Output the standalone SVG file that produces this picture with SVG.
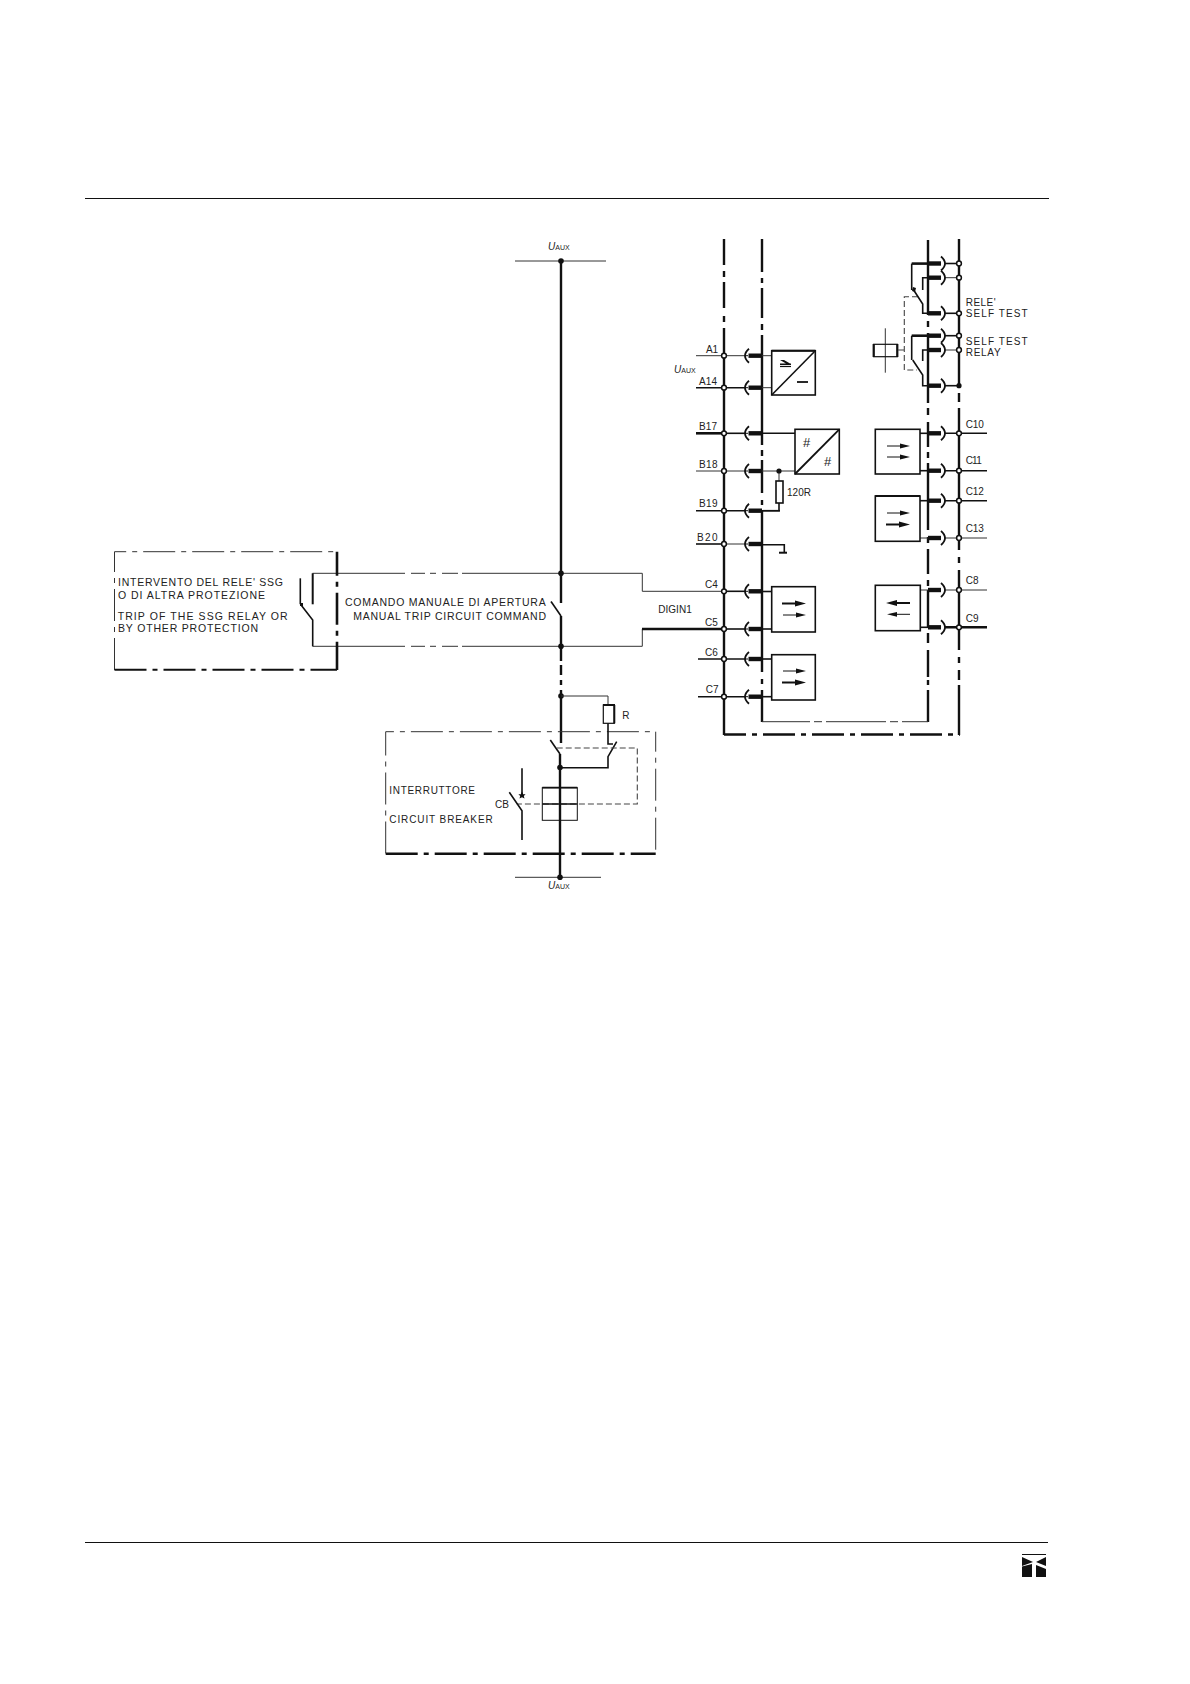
<svg xmlns="http://www.w3.org/2000/svg" xmlns:xlink="http://www.w3.org/1999/xlink" width="1190" height="1684" viewBox="0 0 1190 1684">
<style>
text{font-family:"Liberation Sans",Arial,sans-serif;fill:#222;font-size:10.5px}
.t{font-size:10px}
.s{font-size:7px}
.u{font-size:10px;font-style:italic}
line,path,rect,polyline{stroke:#111;fill:none;stroke-linecap:butt}
.w1{stroke-width:1;stroke:#333}
.w2{stroke-width:1.6}
.w3{stroke-width:2.6}
.b{stroke-width:2.4}
.dd{stroke-dasharray:32 6 5 6}
.dl{stroke-dasharray:60 4 8 4}
.dash{stroke-dasharray:6 3;stroke:#444;stroke-width:1.1}
.box{fill:#fff;stroke-width:1.6}
.arr{fill:#111;stroke:none}
.bar{stroke-width:4.4}
.term{fill:#fff;stroke:#111;stroke-width:1.5}
.dot{fill:#111;stroke:none}
</style>
<defs>
<g id="sl"><path d="M6 -7Q-2 0 6 7" stroke-width="1.8"/><path d="M3 0H5" stroke-width="1"/><line x1="5.5" y1="0" x2="19" y2="0" class="bar"/></g>
<g id="sr"><line x1="0" y1="0" x2="13" y2="0" class="bar"/><path d="M13 -7Q21 0 13 7" stroke-width="1.8"/></g>
<g id="arT"><line x1="0" y1="0" x2="15" y2="0" stroke-width="2"/><path class="arr" d="M13 -3L24 0L13 3Z"/></g>
<g id="art"><line x1="0" y1="0" x2="15" y2="0" stroke-width="1"/><path class="arr" d="M13 -2.4L23 0L13 2.4Z"/></g>
</defs>

<g id="page-rules">
<line x1="85" y1="198.5" x2="1049" y2="198.5" stroke-width="1.2"/>
<line x1="85" y1="1542.5" x2="1048" y2="1542.5" stroke-width="1.2"/>
</g>
<g id="logo">
<line x1="1022" y1="1554.5" x2="1046" y2="1554.5" stroke-width="1"/>
<path class="arr" d="M1022 1557L1033 1562L1022 1566Z"/>
<path class="arr" d="M1046 1557L1036 1562L1046 1566Z"/>
<path class="arr" d="M1022 1566.5L1032 1564L1032 1577H1022Z"/>
<path class="arr" d="M1036 1565L1046 1569V1577H1036Z"/>
</g>

<g id="connectors">
<!-- buses -->
<path class="b" d="M724 239V265M724 271V277M724 282V308M724 316V322M724 328V735"/>
<path class="b" d="M762 239V272M762 278V283M762 288V318M762 324V330M762 335V445M762 450V456M762 460V493M762 500V505M762 510V672M762 679V684M762 690V722"/>
<path class="b" d="M928 240V315M928 321V327M928 333V403M928 408V415M928 422V447M928 452V458M928 463V530M928 537V543M928 549V574M928 580V586M928 590V627M928 633V643M928 650V677M928 680V685M928 690V722"/>
<path class="b" d="M959 239V387M959 393V402M959 408V550M959 557V563M959 570V650M959 657V663M959 670V680M959 685V735"/>
<path class="b dd" stroke-dashoffset="10" d="M724 734.5H960"/>
<path class="w1 dl" stroke-dashoffset="12" d="M762 721.7H928"/>
<!-- main feed -->
<path class="b" d="M561 261V603M561 616V661M561 665V675M561 680V685M561 690V743"/>
<path class="b" d="M560 754V877"/>
<line class="w2" x1="551" y1="601.5" x2="561" y2="616"/>
<line class="w1" x1="515" y1="261" x2="606" y2="261"/>
<line class="w1" x1="515" y1="877.3" x2="601" y2="877.3"/>
<!-- command loop -->
<path class="w1" d="M312.5 573.3H405M411 573.3H425M430 573.3H436M442 573.3H458M462 573.3H642.3V591.3H724"/>
<path class="w1" d="M312.5 646.3H405M411 646.3H425M430 646.3H436M442 646.3H458M462 646.3H642.3V629"/>
<line class="w3" x1="642" y1="629" x2="724" y2="629"/>
<!-- terminal stubs, left -->
<g id="left-stubs">
<line class="w1" x1="696" y1="355.7" x2="724" y2="355.7"/><line class="w1" x1="724" y1="355.7" x2="746" y2="355.7"/><line class="w1" x1="762" y1="355.7" x2="772" y2="355.7"/>
<line class="w2" x1="696" y1="387.7" x2="746" y2="387.7"/><line class="w1" x1="762" y1="387.7" x2="772" y2="387.7"/>
<line class="w3" x1="696" y1="433.3" x2="724" y2="433.3"/><line class="w2" x1="724" y1="433.3" x2="746" y2="433.3"/><line class="w2" x1="762" y1="433.3" x2="795" y2="433.3"/>
<line class="w1" x1="696" y1="471" x2="746" y2="471"/><line class="w1" x1="762" y1="471" x2="795" y2="471"/>
<line class="w2" x1="696" y1="510.7" x2="746" y2="510.7"/><line class="w2" x1="762" y1="510.7" x2="780" y2="510.7"/>
<line class="w2" x1="696" y1="544" x2="724" y2="544"/><line class="w1" x1="724" y1="544" x2="746" y2="544"/>
<path class="w2" d="M762 544.7H784.3V552"/><line x1="779" y1="552.7" x2="787" y2="552.7" stroke-width="2"/>
<line class="w2" x1="724" y1="591.3" x2="746" y2="591.3"/><line class="w2" x1="762" y1="591.5" x2="772" y2="591.5"/>
<line class="w2" x1="724" y1="629" x2="746" y2="629"/><line class="w2" x1="762" y1="629" x2="772" y2="629"/>
<line class="w2" x1="698" y1="659" x2="746" y2="659"/><line class="w2" x1="762" y1="659" x2="772" y2="659"/>
<line class="w2" x1="698" y1="696.7" x2="746" y2="696.7"/><line class="w2" x1="762" y1="696.7" x2="772" y2="696.7"/>
</g>
<g id="left-sockets">
<use xlink:href="#sl" href="#sl" x="743" y="355.7"/>
<use xlink:href="#sl" href="#sl" x="743" y="387.7"/>
<use xlink:href="#sl" href="#sl" x="743" y="433.3"/>
<use xlink:href="#sl" href="#sl" x="743" y="471"/>
<use xlink:href="#sl" href="#sl" x="743" y="510.7"/>
<use xlink:href="#sl" href="#sl" x="743" y="544"/>
<use xlink:href="#sl" href="#sl" x="743" y="591.3"/>
<use xlink:href="#sl" href="#sl" x="743" y="629"/>
<use xlink:href="#sl" href="#sl" x="743" y="659"/>
<use xlink:href="#sl" href="#sl" x="743" y="696.7"/>
</g>
<!-- terminal stubs, right -->
<g id="right-stubs">
<line class="w2" x1="945" y1="263.5" x2="959" y2="263.5"/>
<line class="w1" x1="945" y1="277.7" x2="959" y2="277.7"/>
<line class="w2" x1="945" y1="313.3" x2="959" y2="313.3"/>
<line class="w2" x1="945" y1="335.7" x2="959" y2="335.7"/>
<line class="w1" x1="945" y1="350" x2="959" y2="350"/>
<line class="w2" x1="945" y1="385.7" x2="959" y2="385.7"/>
<line class="w2" x1="945" y1="433.3" x2="987" y2="433.3"/>
<line class="w2" x1="945" y1="470.7" x2="987" y2="470.7"/>
<line class="w2" x1="945" y1="500.7" x2="987" y2="500.7"/>
<line class="w1" x1="920" y1="538" x2="928" y2="538"/><line class="w1" x1="945" y1="538" x2="987" y2="538"/>
<line class="w1" x1="920" y1="590" x2="928" y2="590"/><line class="w1" x1="945" y1="590" x2="987" y2="590"/>
<line class="w2" x1="920" y1="627.3" x2="928" y2="627.3"/><line class="w3" x1="945" y1="627.3" x2="987" y2="627.3"/>
<line class="w2" x1="920" y1="433.3" x2="928" y2="433.3"/>
<line class="w2" x1="920" y1="470.7" x2="928" y2="470.7"/>
<line class="w2" x1="920" y1="500.7" x2="928" y2="500.7"/>
</g>
<g id="right-sockets">
<use xlink:href="#sr" href="#sr" x="928" y="263.5"/>
<use xlink:href="#sr" href="#sr" x="928" y="277.7"/>
<use xlink:href="#sr" href="#sr" x="928" y="313.3"/>
<use xlink:href="#sr" href="#sr" x="928" y="335.7"/>
<use xlink:href="#sr" href="#sr" x="928" y="350"/>
<use xlink:href="#sr" href="#sr" x="928" y="385.7"/>
<use xlink:href="#sr" href="#sr" x="928" y="433.3"/>
<use xlink:href="#sr" href="#sr" x="928" y="470.7"/>
<use xlink:href="#sr" href="#sr" x="928" y="500.7"/>
<use xlink:href="#sr" href="#sr" x="928" y="538"/>
<use xlink:href="#sr" href="#sr" x="928" y="590"/>
<use xlink:href="#sr" href="#sr" x="928" y="627.3"/>
</g>
</g>

<g id="terminals">
<circle class="term" cx="724" cy="355.7" r="2.4"/><circle class="term" cx="724" cy="387.7" r="2.4"/><circle class="term" cx="724" cy="433.3" r="2.4"/><circle class="term" cx="724" cy="471" r="2.4"/><circle class="term" cx="724" cy="510.7" r="2.4"/><circle class="term" cx="724" cy="544" r="2.4"/><circle class="term" cx="724" cy="591.3" r="2.4"/><circle class="term" cx="724" cy="629" r="2.4"/><circle class="term" cx="724" cy="659" r="2.4"/><circle class="term" cx="724" cy="696.7" r="2.4"/>
<circle class="term" cx="959" cy="263.5" r="2.4"/><circle class="term" cx="959" cy="277.7" r="2.4"/><circle class="term" cx="959" cy="313.3" r="2.4"/><circle class="term" cx="959" cy="335.7" r="2.4"/><circle class="term" cx="959" cy="350" r="2.4"/><circle class="dot" cx="959" cy="385.7" r="2.6"/><circle class="term" cx="959" cy="433.3" r="2.4"/><circle class="term" cx="959" cy="470.7" r="2.4"/><circle class="term" cx="959" cy="500.7" r="2.4"/><circle class="term" cx="959" cy="538" r="2.4"/><circle class="term" cx="959" cy="590" r="2.4"/><circle class="term" cx="959" cy="627.3" r="2.4"/>
<circle class="dot" cx="561" cy="261" r="2.8"/><circle class="dot" cx="561" cy="573.3" r="2.8"/><circle class="dot" cx="561" cy="646.3" r="2.8"/><circle class="dot" cx="561" cy="696" r="2.8"/><circle class="dot" cx="560" cy="767.5" r="2.8"/><circle class="dot" cx="560" cy="877.3" r="2.8"/>
</g>

<g id="psu">
<rect class="box" x="771.7" y="350.7" width="43.6" height="44.3"/>
<line x1="771.7" y1="350.7" x2="815.3" y2="350.7" stroke-width="2"/>
<line x1="771.7" y1="395" x2="815.3" y2="350.7" class="w2"/>
<path class="arr" d="M780 360H784L790 363.5H791V365H780V363.5H786Z"/>
<line x1="780" y1="366.5" x2="791" y2="366.5" stroke-width="1.2"/>
<line x1="797" y1="382" x2="808" y2="382" stroke-width="1.8"/>
</g>
<g id="converter">
<rect class="box" x="795" y="429.3" width="44.3" height="44.7" stroke-width="2"/>
<line x1="795" y1="474" x2="839.3" y2="429.3" stroke-width="1.8"/>
<text x="803" y="447" style="font-size:13px">#</text>
<text x="824" y="466" style="font-size:13px">#</text>
</g>
<g id="resistor-120">
<line class="w1" x1="779" y1="471" x2="779" y2="481"/>
<circle class="dot" cx="779" cy="471" r="2.6"/>
<rect x="776" y="481" width="7" height="22" fill="#fff" stroke-width="1.6"/>
<path class="w2" d="M779 503V510.7H762"/>
<text class="t" x="787" y="496" textLength="24" lengthAdjust="spacing">120R</text>
</g>
<g id="input-c4">
<rect class="box" x="771.7" y="586.7" width="43.6" height="45.3"/>
<use xlink:href="#arT" href="#arT" x="782" y="603.5"/>
<use xlink:href="#art" href="#art" x="783" y="615"/>
</g>
<g id="input-c6">
<rect class="box" x="771.7" y="654.7" width="43.6" height="45.3"/>
<use xlink:href="#art" href="#art" x="783" y="671"/>
<use xlink:href="#arT" href="#arT" x="782" y="682.5"/>
</g>
<g id="output-c10">
<rect class="box" x="875.3" y="429.3" width="44.7" height="44.7"/>
<use xlink:href="#art" href="#art" x="887" y="446"/>
<use xlink:href="#art" href="#art" x="887" y="457"/>
</g>
<g id="output-c12">
<rect class="box" x="875.3" y="496" width="44.7" height="45.3"/>
<line x1="875.3" y1="496" x2="920" y2="496" stroke-width="2"/>
<use xlink:href="#art" href="#art" x="887" y="513"/>
<use xlink:href="#arT" href="#arT" x="886" y="524.5"/>
</g>
<g id="output-c8">
<rect class="box" x="875.3" y="585.3" width="45" height="45.4" stroke-width="2"/>
<g transform="translate(910 603) scale(-1 1)"><use xlink:href="#arT" href="#arT"/></g>
<g transform="translate(910 614.3) scale(-1 1)"><use xlink:href="#art" href="#art"/></g>
</g>
<g id="self-test-relay">
<line class="w1" x1="885.3" y1="328.3" x2="885.3" y2="372.7"/>
<rect x="873.7" y="344.3" width="23.6" height="12.4" fill="#fff" stroke-width="1.2"/>
<line x1="873.7" y1="344" x2="873.7" y2="357" stroke-width="2.2"/>
<line x1="897.3" y1="344" x2="897.3" y2="357" stroke-width="2.2"/>
<path class="dash" d="M898 350H905M918 296.7H904.3V370H917"/>
<path class="w3" d="M928 263.6H911.7"/><path class="w2" d="M911.7 263.6V290"/>
<path class="w2" d="M928 277.7H922.7V290"/>
<path class="w2" d="M913 289L922.7 304V313.3H930"/><path class="dot" d="M913 287l3 1-1 4-3-1Z"/>
<path class="w3" d="M928 335.7H911.7"/><path class="w2" d="M911.7 335.7V360"/>
<path class="w2" d="M928 350H922.7V361"/>
<path class="w2" d="M912.7 360L922.7 375V385.7H930"/>
<text x="965.7" y="306" textLength="30" lengthAdjust="spacing" style="font-size:10px">RELE'</text>
<text x="965.7" y="316.7" textLength="62" lengthAdjust="spacing" style="font-size:10px">SELF TEST</text>
<text x="965.7" y="345" textLength="62" lengthAdjust="spacing" style="font-size:10px">SELF TEST</text>
<text x="965.7" y="356" textLength="35" lengthAdjust="spacing" style="font-size:10px">RELAY</text>
</g>
<g id="protection-box">
<path class="w1 dd" d="M114.5 670V551.7H337"/>
<path class="w3 dd" stroke-dashoffset="8" d="M337 551.7V670"/>
<path class="b dd" style="stroke-width:2" d="M114.5 669.7H337"/>
<line x1="312.7" y1="573.3" x2="312.7" y2="604.3" stroke-width="2"/>
<line class="w2" x1="300.3" y1="578.3" x2="300.3" y2="604"/>
<path class="w2" d="M300.3 604L312.7 620V646.3"/>
<rect class="arr" x="300" y="603" width="3" height="3"/>
<text x="118" y="585.7" textLength="165" lengthAdjust="spacing">INTERVENTO DEL RELE' SSG</text>
<text x="118" y="599" textLength="147" lengthAdjust="spacing">O DI ALTRA PROTEZIONE</text>
<text x="117.7" y="620" textLength="170" lengthAdjust="spacing">TRIP OF THE SSG RELAY OR</text>
<text x="118" y="632.3" textLength="140" lengthAdjust="spacing">BY OTHER PROTECTION</text>
</g>
<g id="manual-command">
<text x="345" y="605.7" textLength="200.7" lengthAdjust="spacing">COMANDO MANUALE DI APERTURA</text>
<text x="353.3" y="620" textLength="192.7" lengthAdjust="spacing">MANUAL TRIP CIRCUIT COMMAND</text>
<text x="658.3" y="612.7" textLength="33.4" lengthAdjust="spacing" style="font-size:10px">DIGIN1</text>
</g>
<g id="resistor-r">
<path class="w1" d="M561 696H608V705"/>
<rect x="603.3" y="705" width="11" height="18.3" fill="#fff" stroke-width="1.2"/>
<line x1="603" y1="705" x2="615" y2="705" stroke-width="2"/>
<line x1="614.3" y1="705" x2="614.3" y2="723.3" stroke-width="2"/>
<text x="622.3" y="719.3" style="font-size:10px">R</text>
</g>
<g id="circuit-breaker">
<path class="w1 dd" d="M385.7 853.5V731.7H655.7"/>
<path class="w1 dd" stroke-dashoffset="12" d="M655.7 731.7V853.5"/>
<path class="b dd" d="M385.7 853.7H655.7"/>
<line class="w2" x1="550.3" y1="740" x2="560" y2="754"/>
<path class="w2" d="M608 723.3V744H613"/>
<path class="w2" d="M616.7 741.7L608 756.7V767.7H560"/>
<path class="dash" d="M556.7 748H637.3V804H516.7"/>
<rect x="542.3" y="787.7" width="35" height="32.6" stroke-width="1"/>
<line x1="542.3" y1="787.7" x2="577.3" y2="787.7" stroke-width="1.8"/>
<line x1="542.3" y1="804" x2="577.3" y2="804" stroke-width="1.6"/>
<line class="w2" x1="522" y1="768.3" x2="522" y2="796"/>
<path class="arr" d="M522 791.5L523.2 794.2H525.6L523.8 796L524.5 798.6L522 797.3L519.5 798.6L520.2 796L518.4 794.2H520.8Z"/>
<path class="w2" d="M509.3 792.3L522 810.7V840"/>
<text x="389.3" y="794" textLength="85.7" lengthAdjust="spacing" style="font-size:10px">INTERRUTTORE</text>
<text x="389.3" y="823.3" textLength="103.4" lengthAdjust="spacing" style="font-size:10px">CIRCUIT BREAKER</text>
<text x="495" y="807.7" textLength="14" lengthAdjust="spacing" style="font-size:10px">CB</text>
</g>
<g id="labels">
<text x="548" y="250"><tspan class="u">U</tspan><tspan class="s">AUX</tspan></text>
<text x="548" y="889.3"><tspan class="u">U</tspan><tspan class="s">AUX</tspan></text>
<text x="674" y="373"><tspan class="u">U</tspan><tspan class="s">AUX</tspan></text>
<text class="t" x="706" y="352.7" textLength="12" lengthAdjust="spacing">A1</text>
<text class="t" x="699" y="385" textLength="18" lengthAdjust="spacing">A14</text>
<text class="t" x="699" y="430" textLength="18" lengthAdjust="spacing">B17</text>
<text class="t" x="699" y="467.7" textLength="18.5" lengthAdjust="spacing">B18</text>
<text class="t" x="699" y="506.7" textLength="18.5" lengthAdjust="spacing">B19</text>
<text class="t" x="697" y="541" textLength="20.5" lengthAdjust="spacing">B20</text>
<text class="t" x="705" y="588.3">C4</text>
<text class="t" x="705" y="626">C5</text>
<text class="t" x="705" y="655.7">C6</text>
<text class="t" x="705.7" y="693.3">C7</text>
<text class="t" x="965.7" y="428.3" textLength="18" lengthAdjust="spacing">C10</text>
<text class="t" x="965.7" y="464.3" textLength="16" lengthAdjust="spacing">C11</text>
<text class="t" x="965.7" y="495" textLength="18" lengthAdjust="spacing">C12</text>
<text class="t" x="965.7" y="532.3" textLength="18" lengthAdjust="spacing">C13</text>
<text class="t" x="965.7" y="584">C8</text>
<text class="t" x="965.7" y="622.3">C9</text>
</g>
</svg>
